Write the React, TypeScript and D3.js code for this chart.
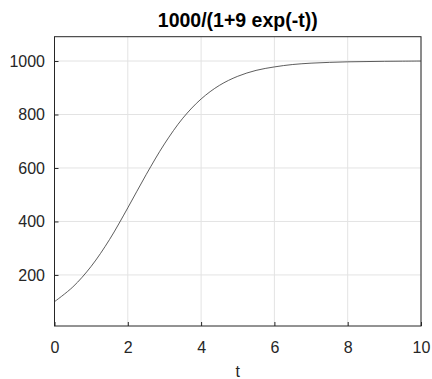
import React, { useEffect, useRef } from 'react'
import * as d3 from 'd3'

// values
const tValues = [0, 0.5, 1, 1.5, 2, 2.5, 3, 3.5, 4, 4.5, 5, 5.5, 6, 6.5, 7, 7.5, 8, 8.5, 9, 9.5, 10]
const yValues = [100, 155, 232, 332, 451, 575, 690, 786, 858, 909, 943, 965, 978, 987, 992, 995, 997, 998, 999, 999.5, 1000]
const xTicks = [0, 2, 4, 6, 8, 10]
const yTicks = [200, 400, 600, 800, 1000]

const W = 432, H = 379
const margin = { top: 36.7, right: 11, bottom: 53, left: 54.5 }
const width = W - margin.left - margin.right
const height = H - margin.top - margin.bottom
const font = '"Liberation Sans", Arial, sans-serif'

export default function App() {
  const ref = useRef<SVGSVGElement>(null)

  useEffect(() => {
    const svg = d3.select(ref.current)
    svg.selectAll('*').remove()
    const g = svg.append('g').attr('transform', `translate(${margin.left},${margin.top})`)

    const x = d3.scaleLinear().domain([0, 10]).range([0, width])
    const y = d3.scaleLinear().domain([9, 1091]).range([height, 0])

    g.append('rect').attr('width', width).attr('height', height).attr('fill', '#fff')

    // grid
    g.selectAll('.gx').data(xTicks).enter().append('line')
      .attr('x1', d => x(d)).attr('x2', d => x(d)).attr('y1', 0).attr('y2', height)
      .attr('stroke', '#e3e3e3').attr('stroke-width', 1)
    g.selectAll('.gy').data(yTicks).enter().append('line')
      .attr('x1', 0).attr('x2', width).attr('y1', d => y(d)).attr('y2', d => y(d))
      .attr('stroke', '#e3e3e3').attr('stroke-width', 1)

    const pts = tValues.map((t, i) => [t, yValues[i]] as [number, number])
    g.append('path')
      .datum(pts)
      .attr('d', d3.line<[number, number]>().x(d => x(d[0])).y(d => y(d[1])).curve(d3.curveCatmullRom))
      .attr('fill', 'none').attr('stroke', '#333').attr('stroke-width', 0.8)

    // box
    g.append('rect').attr('width', width).attr('height', height)
      .attr('fill', 'none').attr('stroke', '#262626').attr('stroke-width', 1)

    const xAxis = d3.axisBottom(x).tickValues(xTicks).tickSizeInner(-4).tickSizeOuter(0)
      .tickPadding(15.5).tickFormat(d3.format('d'))
    const gx = g.append('g').attr('transform', `translate(0,${height})`).call(xAxis)
    const yAxis = d3.axisLeft(y).tickValues(yTicks).tickSizeInner(-4).tickSizeOuter(0)
      .tickPadding(9.5).tickFormat(d3.format('d'))
    const gy = g.append('g').call(yAxis)
    ;[gx, gy].forEach(a => {
      a.select('.domain').remove()
      a.selectAll('line').attr('stroke', '#262626')
      a.selectAll('text').attr('fill', '#262626')
        .style('font-family', font).style('font-size', '16px')
    })

    g.append('text')
      .attr('x', width / 2).attr('y', height + 51)
      .attr('text-anchor', 'middle').attr('fill', '#262626')
      .style('font-family', font).style('font-size', '16px')
      .text('t')

    g.append('text')
      .attr('x', width / 2).attr('y', -9.4)
      .attr('text-anchor', 'middle').attr('fill', '#000')
      .style('font-family', font).style('font-size', '19.5px')
      .style('font-weight', 'bold')
      .text('1000/(1+9 exp(-t))')
  }, [])

  return (
    <svg ref={ref} width={W} height={H}
      style={{ position: 'absolute', left: 0, top: 0, background: '#fff' }} />
  )
}
